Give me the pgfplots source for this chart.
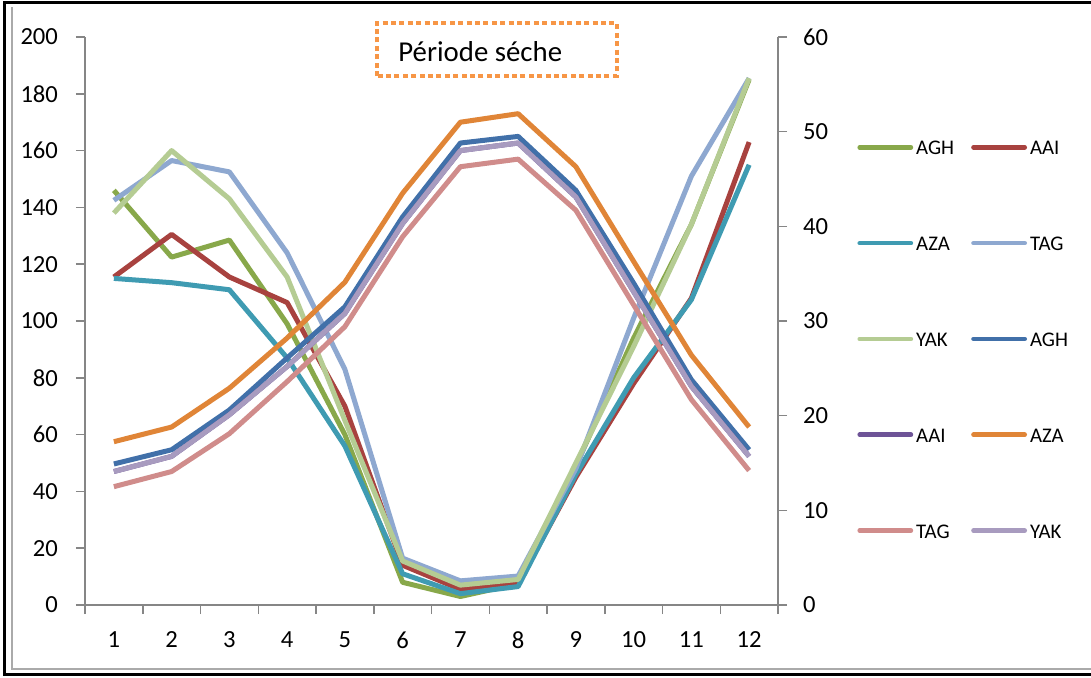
\documentclass[border=0pt]{standalone}
\usepackage{fontspec}
\setmainfont{Carlito}
\usepackage{pgfplots}
\pgfplotsset{compat=1.18}
\definecolor{axgray}{HTML}{868686}
\definecolor{cA}{HTML}{88A84A}
\definecolor{cB}{HTML}{A8423F}
\definecolor{cC}{HTML}{3F9BB2}
\definecolor{cD}{HTML}{8EA8D0}
\definecolor{cE}{HTML}{B5CC93}
\definecolor{cF}{HTML}{4170A9}
\definecolor{cG}{HTML}{6E5497}
\definecolor{cH}{HTML}{E08537}
\definecolor{cI}{HTML}{D08C8B}
\definecolor{cJ}{HTML}{A89BBF}
\definecolor{boxor}{HTML}{F79646}
\begin{document}
\begin{tikzpicture}
\path[use as bounding box] (0,0) rectangle (545.5pt,338.5pt);
\fill[white] (0,0) rectangle (545.5pt,338.5pt);
\draw[axgray!70, line width=0.6pt] (6pt,335pt) -- (6pt,4pt) -- (546pt,4pt);
\draw[black, line width=1.5pt] (546pt,337.3pt) -- (2pt,337.3pt) -- (2pt,1.2pt) -- (546pt,1.2pt);
\pgfplotsset{common/.style={
  width=346.5pt, height=284pt, scale only axis,
  at={(42.5pt,36pt)}, anchor=south west,
  xmin=0.5, xmax=12.5,
  axis line style={draw=axgray, line width=0.75pt, -},
  tick align=outside,
  tick style={draw=axgray, line width=0.75pt},
  major tick length=4.5pt, minor tick length=4.5pt,
  /pgf/number format/assume math mode=true,
  ticklabel style={font=\fontsize{12.3}{14}\selectfont},
  every axis plot/.append style={line width=2.5pt, line join=round, no markers},
}}
\begin{axis}[common,
  ymin=0, ymax=200, ytick={0,20,...,200},
  axis x line*=bottom, axis y line*=left,
  xtick={1,...,12}, major x tick style={draw=none},
  minor xtick={0.5,1.5,...,12.5},
  yticklabel style={xshift=-5.5pt},
  xticklabel style={yshift=-5.2pt},
]
\addplot[cA] coordinates {(1,146) (2,122.5) (3,128.5) (4,99) (5,60) (6,8) (7,3) (8,7.5) (9,49) (10,94) (11,134) (12,185)};
\addplot[cB] coordinates {(1,115.5) (2,130.5) (3,115.5) (4,106.5) (5,70) (6,14) (7,5.5) (8,7.5) (9,45) (10,78) (11,108) (12,163)};
\addplot[cC] coordinates {(1,115) (2,113.5) (3,111) (4,87) (5,56) (6,11) (7,4) (8,6.5) (9,46) (10,80) (11,107.5) (12,155)};
\addplot[cD] coordinates {(1,142.5) (2,156.5) (3,152.5) (4,124) (5,83) (6,16.5) (7,8.5) (8,10.2) (9,48) (10,101) (11,151) (12,185.5)};
\addplot[cE] coordinates {(1,138) (2,160) (3,143) (4,115.5) (5,65) (6,15.5) (7,7) (8,9) (9,50) (10,91) (11,134) (12,185.5)};
\end{axis}
\begin{axis}[common,
  ymin=0, ymax=60, ytick={0,10,...,60},
  axis y line*=right, axis x line=none, xtick=\empty,
  yticklabel style={xshift=4.5pt},
  legend columns=2,
  legend cell align=left,
  legend image code/.code={\draw[#1, line width=2.3pt, line cap=round] (1.2pt,0.3pt) -- (26.8pt,0.3pt);},
  legend style={draw=none, fill=none, inner sep=0pt, at={(1.114,0.8177)}, anchor=north west,
    row sep=40.9pt, column sep=0pt,
    nodes={font=\fontsize{10.4}{12}\selectfont, text height=7pt, text depth=0pt, inner xsep=1.5pt, inner ysep=0pt, text width=26pt, align=left}},
]
\addlegendimage{cA, line width=2.5pt}\addlegendentry{AGH}
\addlegendimage{cB, line width=2.5pt}\addlegendentry{AAI}
\addlegendimage{cC, line width=2.5pt}\addlegendentry{AZA}
\addlegendimage{cD, line width=2.5pt}\addlegendentry{TAG}
\addlegendimage{cE, line width=2.5pt}\addlegendentry{YAK}
\addplot[cF] coordinates {(1,14.9) (2,16.4) (3,20.6) (4,26.1) (5,31.5) (6,41) (7,48.8) (8,49.5) (9,43.8) (10,34) (11,23.8) (12,16.4)};
\addlegendentry{AGH}
\addplot[cG] coordinates {(1,14.1) (2,15.7) (3,20.1) (4,25.2) (5,30.8) (6,40.3) (7,48.0) (8,48.8) (9,43.1) (10,33.1) (11,23.1) (12,15.7)};
\addlegendentry{AAI}
\addplot[cH] coordinates {(1,17.25) (2,18.8) (3,22.9) (4,28.2) (5,34.1) (6,43.5) (7,51) (8,51.9) (9,46.3) (10,36.3) (11,26.4) (12,18.8)};
\addlegendentry{AZA}
\addplot[cI] coordinates {(1,12.5) (2,14.1) (3,18.1) (4,23.6) (5,29.4) (6,38.9) (7,46.3) (8,47.1) (9,41.7) (10,31.7) (11,21.7) (12,14.2)};
\addlegendentry{TAG}
\addplot[cJ] coordinates {(1,14.1) (2,15.7) (3,20.1) (4,25.2) (5,30.8) (6,40.3) (7,48.0) (8,48.8) (9,43.1) (10,33.1) (11,23.1) (12,15.7)};
\addlegendentry{YAK}
\end{axis}
\fill[white] (188.3pt,300.5pt) rectangle (308.3pt,326.9pt);
\draw[boxor, line width=2pt, dash pattern=on 2.5pt off 1.7pt] (188.3pt,300.5pt) rectangle (308.3pt,326.9pt);
\node[anchor=base west, inner sep=0pt, font=\fontsize{14.4}{16}\selectfont] at (199pt,308pt) {Période séche};
\end{tikzpicture}
\end{document}
